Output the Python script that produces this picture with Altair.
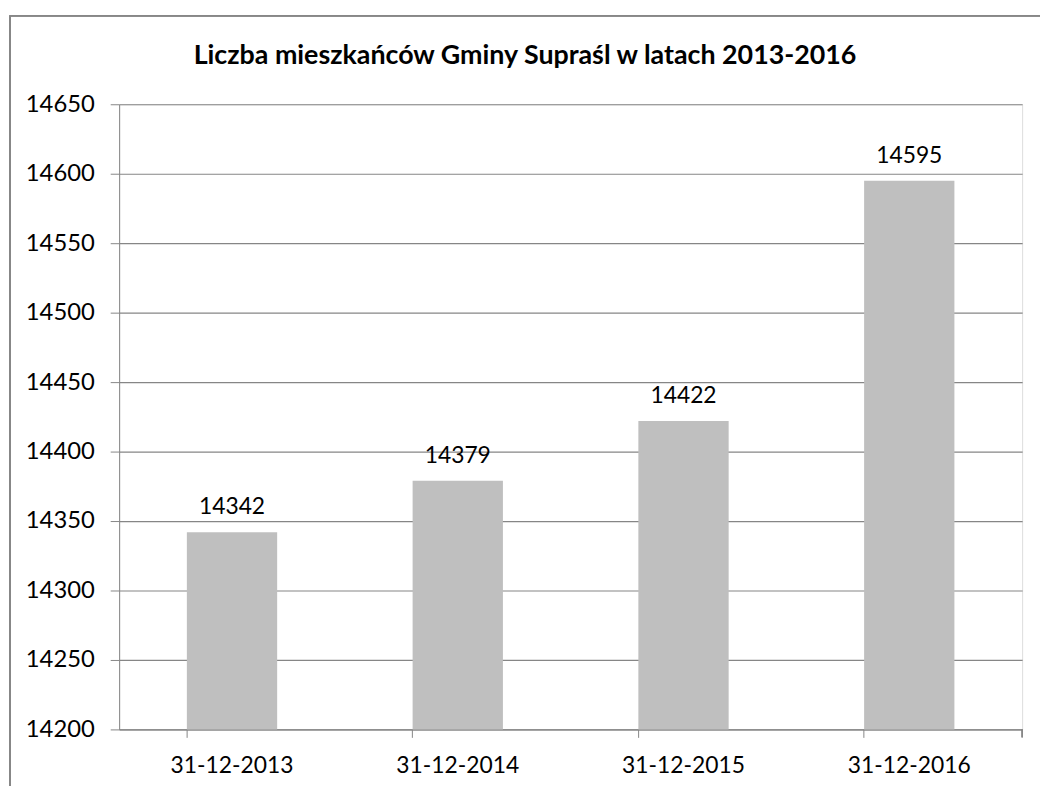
import altair as alt
import pandas as pd

dates = ["31-12-2013", "31-12-2014", "31-12-2015", "31-12-2016"]
values = [14342, 14379, 14422, 14595]
y_ticks = [14200, 14250, 14300, 14350, 14400, 14450, 14500, 14550, 14600, 14650]
title_text = "Liczba mieszkańców Gminy Supraśl w latach 2013-2016"

df = pd.DataFrame({"data": dates, "liczba": values})

W, H = 910, 630
GRAY = "#868686"
FONT = "Lato"

base = alt.Chart(df)

frame = base.mark_rect(fill=None, stroke=GRAY, strokeWidth=1.3).encode(
    x=alt.value(-110), x2=alt.value(W + 60), y=alt.value(-89), y2=alt.value(H + 120)
)

title = alt.Chart(pd.DataFrame({"t": [title_text]})).mark_text(
    font=FONT, fontSize=27, fontWeight="bold", color="#000000",
    align="center", baseline="alphabetic"
).encode(x=alt.value(W / 2 - 46), y=alt.value(-41), text="t:N")

bars = base.mark_bar(color="#BFBFBF", clip=True).encode(
    x=alt.X("data:N", sort=dates,
            scale=alt.Scale(paddingInner=0.6, paddingOuter=0.3),
            axis=alt.Axis(title=None, labelAngle=0, bandPosition=0, tickSize=8,
                          tickColor=GRAY, domainColor=GRAY, labelPadding=17,
                          labelFontSize=23, labelFont=FONT, labelColor="#000000",
                          grid=False)),
    y=alt.Y("liczba:Q",
            scale=alt.Scale(domain=[14200, 14650], zero=False, nice=False),
            axis=alt.Axis(title=None, values=y_ticks, tickSize=9, tickColor=GRAY,
                          domainColor=GRAY, gridColor=GRAY, gridWidth=1.2,
                          labelPadding=16, labelFontSize=24, labelFont=FONT,
                          labelColor="#000000", format="d")),
)

labels = base.mark_text(fontSize=23, font=FONT, color="#000000",
                        baseline="alphabetic", dy=-18).encode(
    x=alt.X("data:N", sort=dates),
    y="liczba:Q",
    text=alt.Text("liczba:Q", format="d"),
)

end_tick = base.mark_rule(color=GRAY).encode(
    x=alt.value(W), y=alt.value(H), y2=alt.value(H + 8)
)

chart = alt.layer(frame, title, bars, labels, end_tick).properties(
    width=W, height=H,
    padding={"left": 112, "top": 94, "right": 18, "bottom": 54},
    autosize=alt.AutoSizeParams(type="none"),
).configure_view(stroke=None).configure(background="white")

chart.save("out.html", embed_options={"renderer": "svg", "actions": False})
